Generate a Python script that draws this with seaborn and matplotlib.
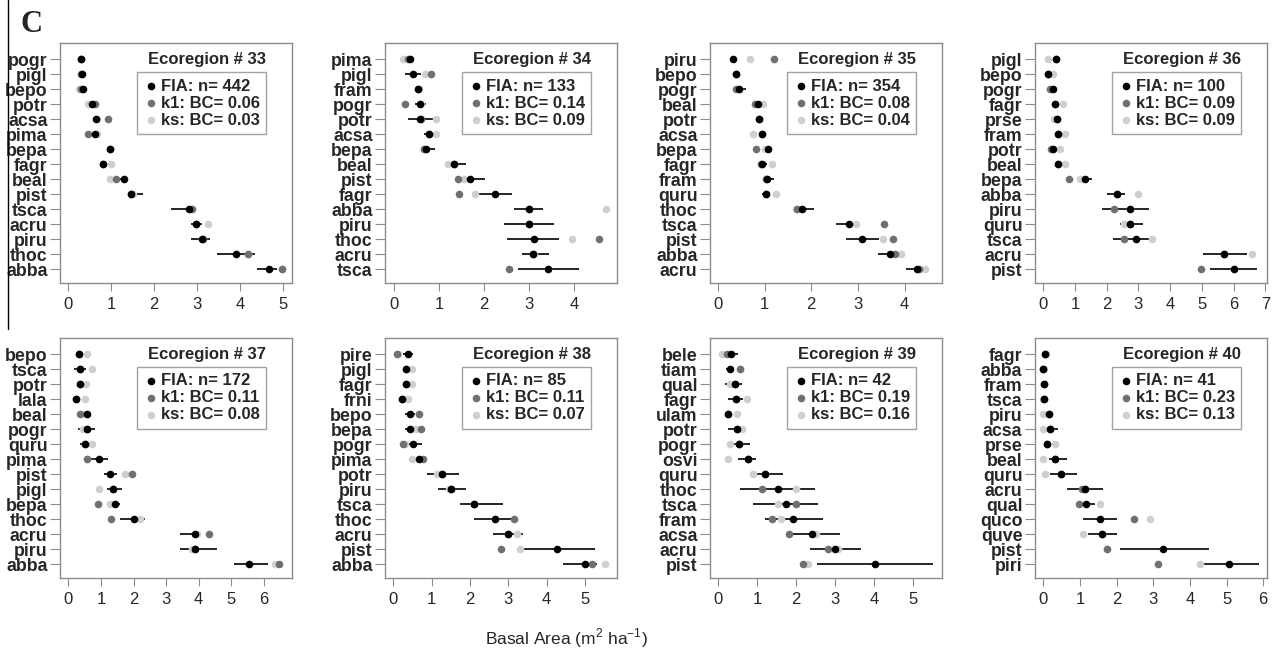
import numpy as np
import pandas as pd
import matplotlib
matplotlib.use("Agg")
import matplotlib.pyplot as plt
import seaborn as sns
from matplotlib.lines import Line2D

# ---- data (basal area, m2/ha) ----
sp33 = ['pogr', 'pigl', 'bepo', 'potr', 'acsa', 'pima', 'bepa', 'fagr', 'beal', 'pist', 'tsca', 'acru', 'piru', 'thoc', 'abba']
fia33 = [0.3, 0.31, 0.35, 0.55, 0.65, 0.62, 0.97, 0.8, 1.29, 1.45, 2.8, 2.98, 3.1, 3.9, 4.67]
lo33 = [0.28, 0.27, 0.3, 0.5, 0.6, 0.55, 0.93, 0.75, 1.2, 1.38, 2.4, 2.85, 2.85, 3.45, 4.38]
hi33 = [0.33, 0.36, 0.42, 0.62, 0.72, 0.7, 1.02, 0.87, 1.38, 1.75, 2.95, 3.12, 3.3, 4.34, 4.85]
k1_33 = [0.3, 0.3, 0.3, 0.62, 0.93, 0.47, 0.97, 0.8, 1.12, 1.46, 2.87, 2.98, 3.14, 4.19, 4.96]
ks33 = [0.29, 0.3, 0.25, 0.45, 0.66, 0.66, 0.97, 1.0, 0.97, 1.5, 2.85, 3.26, 3.1, 4.19, 4.96]

sp34 = ['pima', 'pigl', 'fram', 'pogr', 'potr', 'acsa', 'bepa', 'beal', 'pist', 'fagr', 'abba', 'piru', 'thoc', 'acru', 'tsca']
fia34 = [0.35, 0.42, 0.53, 0.57, 0.58, 0.77, 0.7, 1.34, 1.69, 2.25, 2.99, 3.0, 3.11, 3.08, 3.43]
lo34 = [0.28, 0.24, 0.46, 0.46, 0.31, 0.66, 0.62, 1.25, 1.56, 1.82, 2.67, 2.45, 2.52, 2.84, 2.75]
hi34 = [0.42, 0.6, 0.62, 0.72, 0.86, 0.85, 0.9, 1.6, 2.03, 2.63, 3.3, 3.56, 3.67, 3.45, 4.11]
k1_34 = [0.3, 0.83, 0.53, 0.24, 0.6, 0.77, 0.66, 1.34, 1.42, 1.45, 2.99, 3.0, 4.55, 3.08, 2.55]
ks34 = [0.2, 0.68, 0.55, 0.6, 0.94, 0.94, 0.66, 1.2, 1.56, 1.8, 4.7, 3.0, 3.96, 3.1, 3.43]

sp35 = ['piru', 'bepo', 'pogr', 'beal', 'potr', 'acsa', 'bepa', 'fagr', 'fram', 'quru', 'thoc', 'tsca', 'pist', 'abba', 'acru']
fia35 = [0.32, 0.38, 0.45, 0.85, 0.88, 0.95, 1.07, 0.95, 1.05, 1.02, 1.8, 2.8, 3.09, 3.68, 4.26]
lo35 = [0.3, 0.35, 0.35, 0.78, 0.82, 0.88, 1.0, 0.9, 1.0, 0.95, 1.65, 2.54, 2.75, 3.43, 4.04]
hi35 = [0.35, 0.42, 0.6, 0.92, 0.95, 1.02, 1.15, 1.05, 1.2, 1.1, 2.05, 2.93, 3.46, 3.86, 4.5]
k1_35 = [1.21, 0.38, 0.38, 0.79, 0.88, 0.95, 0.81, 0.93, 1.04, 1.02, 1.7, 3.56, 3.75, 3.79, 4.3]
ks35 = [0.68, 0.38, 0.45, 0.96, 0.89, 0.75, 1.0, 1.16, 1.04, 1.25, 1.68, 2.95, 3.54, 3.93, 4.43]

sp36 = ['pigl', 'bepo', 'pogr', 'fagr', 'prse', 'fram', 'potr', 'beal', 'bepa', 'abba', 'piru', 'quru', 'tsca', 'acru', 'pist']
fia36 = [0.4, 0.15, 0.3, 0.37, 0.44, 0.45, 0.3, 0.47, 1.32, 2.32, 2.72, 2.74, 2.93, 5.71, 6.0]
lo36 = [0.32, 0.1, 0.22, 0.3, 0.36, 0.38, 0.2, 0.4, 1.05, 2.0, 1.84, 2.42, 2.21, 5.05, 5.26]
hi36 = [0.48, 0.22, 0.38, 0.45, 0.52, 0.52, 0.4, 0.55, 1.53, 2.58, 3.32, 3.16, 3.37, 6.42, 6.74]
k1_36 = [0.4, 0.14, 0.2, 0.37, 0.44, 0.45, 0.24, 0.47, 0.82, 2.32, 2.24, 2.74, 2.55, 5.71, 4.97]
ks36 = [0.16, 0.3, 0.2, 0.63, 0.35, 0.68, 0.53, 0.68, 1.16, 2.98, 2.72, 2.55, 3.42, 6.58, 6.0]

sp37 = ['bepo', 'tsca', 'potr', 'lala', 'beal', 'pogr', 'quru', 'pima', 'pist', 'pigl', 'bepa', 'thoc', 'acru', 'piru', 'abba']
fia37 = [0.31, 0.36, 0.34, 0.24, 0.58, 0.58, 0.51, 0.95, 1.28, 1.38, 1.44, 2.0, 3.9, 3.9, 5.54]
lo37 = [0.25, 0.18, 0.28, 0.2, 0.45, 0.3, 0.36, 0.67, 1.08, 1.18, 1.28, 1.59, 3.44, 3.44, 5.08]
hi37 = [0.38, 0.54, 0.4, 0.3, 0.65, 0.82, 0.67, 1.23, 1.48, 1.64, 1.59, 2.36, 4.05, 4.56, 6.15]
k1_37 = [0.31, 0.36, 0.34, 0.24, 0.34, 0.58, 0.51, 0.58, 1.95, 1.38, 0.92, 1.31, 4.31, 3.9, 6.46]
ks37 = [0.56, 0.72, 0.54, 0.51, 0.5, 0.45, 0.72, 0.58, 1.74, 0.95, 1.28, 2.2, 3.95, 3.8, 6.36]

sp38 = ['pire', 'pigl', 'fagr', 'frni', 'bepo', 'bepa', 'pogr', 'pima', 'potr', 'piru', 'tsca', 'thoc', 'acru', 'pist', 'abba']
fia38 = [0.37, 0.33, 0.33, 0.22, 0.43, 0.43, 0.52, 0.68, 1.26, 1.5, 2.11, 2.65, 3.0, 4.26, 5.0]
lo38 = [0.26, 0.3, 0.3, 0.18, 0.3, 0.3, 0.39, 0.6, 0.87, 1.17, 1.74, 2.09, 2.61, 3.39, 4.43]
hi38 = [0.52, 0.37, 0.37, 0.28, 0.56, 0.56, 0.74, 0.76, 1.7, 1.9, 2.87, 3.13, 3.39, 5.26, 5.3]
k1_38 = [0.09, 0.33, 0.33, 0.22, 0.68, 0.71, 0.24, 0.77, 1.26, 1.5, 2.11, 3.15, 3.0, 2.8, 5.17]
ks38 = [0.13, 0.48, 0.48, 0.39, 0.68, 0.6, 0.3, 0.48, 1.13, 1.45, 2.11, 2.65, 3.22, 3.3, 5.52]

sp39 = ['bele', 'tiam', 'qual', 'fagr', 'ulam', 'potr', 'pogr', 'osvi', 'quru', 'thoc', 'tsca', 'fram', 'acsa', 'acru', 'pist']
fia39 = [0.34, 0.3, 0.43, 0.45, 0.26, 0.49, 0.54, 0.77, 1.2, 1.52, 1.74, 1.92, 2.41, 2.99, 4.02]
lo39 = [0.13, 0.2, 0.17, 0.26, 0.22, 0.26, 0.34, 0.51, 0.81, 0.56, 0.9, 1.2, 1.82, 2.35, 2.52]
hi39 = [0.51, 0.38, 0.6, 0.64, 0.3, 0.68, 0.81, 0.98, 1.67, 2.48, 2.56, 2.69, 3.12, 3.65, 5.5]
k1_39 = [0.23, 0.56, 0.43, 0.45, 0.26, 0.49, 0.54, 0.77, 1.2, 1.11, 2.0, 1.37, 1.82, 2.82, 2.18]
ks39 = [0.09, 0.56, 0.3, 0.73, 0.47, 0.6, 0.3, 0.26, 0.9, 2.0, 1.54, 1.62, 2.5, 3.08, 2.3]

sp40 = ['fagr', 'abba', 'fram', 'tsca', 'piru', 'acsa', 'prse', 'beal', 'quru', 'acru', 'qual', 'quco', 'quve', 'pist', 'piri']
fia40 = [0.05, 0.0, 0.02, 0.02, 0.15, 0.18, 0.1, 0.32, 0.47, 1.14, 1.16, 1.55, 1.6, 3.26, 5.06]
lo40 = [0.03, 0.0, 0.01, 0.0, 0.1, -0.05, 0.05, 0.14, 0.18, 0.64, 0.96, 1.09, 1.23, 2.1, 4.28]
hi40 = [0.08, 0.02, 0.04, 0.05, 0.2, 0.41, 0.15, 0.64, 0.91, 1.64, 1.41, 2.0, 2.0, 4.51, 5.88]
k1_40 = [0.05, 0.0, 0.02, 0.02, 0.15, 0.18, 0.09, 0.32, 0.47, 1.05, 0.96, 2.46, 1.6, 1.73, 3.13]
ks40 = [0.07, 0.02, 0.02, 0.0, 0.0, 0.0, 0.32, 0.0, 0.05, 1.14, 1.55, 2.92, 1.09, 1.73, 4.28]

regions = [33, 34, 35, 36, 37, 38, 39, 40]
n_fia = [442, 133, 354, 100, 172, 85, 42, 41]
bc_k1 = [0.06, 0.14, 0.08, 0.09, 0.11, 0.11, 0.19, 0.23]
bc_ks = [0.03, 0.09, 0.04, 0.09, 0.08, 0.07, 0.16, 0.13]
xmax_tick = [5, 4, 4, 7, 6, 5, 5, 6]
xlims = [(-0.19, 5.2), (-0.2, 4.95), (-0.17, 4.8), (-0.26, 7.05),
         (-0.26, 6.87), (-0.22, 5.83), (-0.21, 5.73), (-0.23, 6.1)]

panels = [
    (sp33, fia33, lo33, hi33, k1_33, ks33),
    (sp34, fia34, lo34, hi34, k1_34, ks34),
    (sp35, fia35, lo35, hi35, k1_35, ks35),
    (sp36, fia36, lo36, hi36, k1_36, ks36),
    (sp37, fia37, lo37, hi37, k1_37, ks37),
    (sp38, fia38, lo38, hi38, k1_38, ks38),
    (sp39, fia39, lo39, hi39, k1_39, ks39),
    (sp40, fia40, lo40, hi40, k1_40, ks40),
]

sns.set_style("ticks")
plt.rcParams['font.family'] = ['Liberation Sans', 'DejaVu Sans']
plt.rcParams['mathtext.fontset'] = 'custom'
plt.rcParams['mathtext.rm'] = 'Liberation Sans'

fig = plt.figure(figsize=(12.74, 6.57), dpi=100)
lefts = [0.0471, 0.3022, 0.5573, 0.8124]
bottoms = [0.569, 0.1203]
w, h = 0.182, 0.3653
axcol = '#8c8c8c'

for i, (sp, fia, lo, hi, k1, ks) in enumerate(panels):
    ax = fig.add_axes([lefts[i % 4], bottoms[i // 4], w, h])
    df = pd.DataFrame({'sp': sp, 'pos': np.arange(len(sp)), 'fia': fia,
                       'lo': lo, 'hi': hi, 'k1': k1, 'ks': ks})

    ax.hlines(df['pos'], df['lo'], df['hi'], color='black', lw=1.2, zorder=2)
    sns.scatterplot(data=df, x='ks', y='pos', color='#cfcfcf', s=30, linewidth=0,
                    ax=ax, zorder=3, label='ks: BC= %.2f' % bc_ks[i])
    sns.scatterplot(data=df, x='k1', y='pos', color='#707070', s=30, linewidth=0,
                    ax=ax, zorder=4, label='k1: BC= %.2f' % bc_k1[i])
    sns.scatterplot(data=df, x='fia', y='pos', color='black', s=30, linewidth=0,
                    ax=ax, zorder=5, label='FIA: n= %d' % n_fia[i])

    ax.set_ylim(len(sp) - 0.07, -1.07)
    ax.set_xlim(*xlims[i])
    ax.set_yticks(df['pos'], labels=sp, fontweight='bold', fontsize=12.8)
    ax.set_xticks(range(xmax_tick[i] + 1))
    ax.tick_params(axis='y', length=7, pad=2, color=axcol)
    ax.tick_params(axis='x', length=6, pad=4, color=axcol, labelsize=12)
    ax.set_xlabel('')
    ax.set_ylabel('')
    for s in ax.spines.values():
        s.set_color(axcol)
        s.set_linewidth(1)

    ax.text(0.89, 0.933, 'Ecoregion # %d' % regions[i], transform=ax.transAxes,
            ha='right', va='center', fontweight='bold', fontsize=12)
    handles, labels = ax.get_legend_handles_labels()
    leg = ax.legend(handles[::-1], labels[::-1], loc='upper right',
                    bbox_to_anchor=(0.89, 0.88), frameon=True, fancybox=False,
                    edgecolor=axcol, borderpad=0.4, handletextpad=0.2,
                    labelspacing=0.12, handlelength=0.8, borderaxespad=0,
                    prop={'weight': 'bold', 'size': 12})
    leg.get_frame().set_linewidth(1)

fig.text(0.445, 0.028, 'Basal Area (m$^{2}$ ha$^{-1}$)', ha='center', va='center', fontsize=12.5)
fig.text(0.016, 0.985, 'C', family='Liberation Serif', fontweight='bold', fontsize=22, va='top')
fig.add_artist(Line2D([0.0063, 0.0063], [1.0, 0.5], color='black', lw=1))

fig.savefig('out.png', dpi=100)
